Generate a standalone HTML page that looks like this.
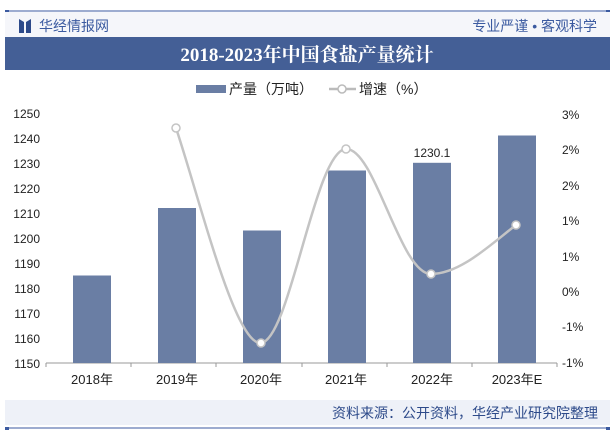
<!DOCTYPE html><html><head><meta charset="utf-8"><style>
body{margin:0;width:615px;height:434px;background:#fff;overflow:hidden;font-family:"Liberation Sans","Noto Sans CJK SC",sans-serif}
</style></head><body>
<svg width="615" height="434" xmlns="http://www.w3.org/2000/svg" font-family="Liberation Sans, Noto Sans CJK SC, sans-serif">
<rect x="5" y="10" width="4" height="3" fill="#3b5aa0"/><rect x="606" y="10" width="4" height="3" fill="#3b5aa0"/>
<line x1="5" y1="11" x2="610" y2="11" stroke="#3b5aa0" stroke-width="1"/>
<rect x="5" y="12" width="605" height="25" fill="#f5f6fa"/>
<path d="M19 19 L24 22 L24 33 L19 33 Z M31 19 L26 22 L26 33 L31 33 Z" fill="#2d4a8a"/>
<text x="39" y="31" font-size="14" fill="#3b5aa0">华经情报网</text>
<text x="597" y="31" font-size="14" fill="#3b5aa0" text-anchor="end">专业严谨 • 客观科学</text>
<rect x="5" y="37" width="605" height="33" fill="#445f96"/>
<text x="307" y="61" font-size="19" font-weight="bold" fill="#fff" text-anchor="middle" font-family="Liberation Serif, Noto Serif CJK SC, serif">2018-2023年中国食盐产量统计</text>
<rect x="196" y="85" width="30" height="8" fill="#6a7ea4"/>
<text x="229" y="94" font-size="14" fill="#222">产量（万吨）</text>
<line x1="329" y1="89" x2="356" y2="89" stroke="#bbb" stroke-width="2.5"/><circle cx="342" cy="89" r="4" fill="#fff" stroke="#bbb" stroke-width="1.5"/>
<text x="359" y="94" font-size="14" fill="#222">增速（%）</text>
<g font-size="12" fill="#222" text-anchor="end">
<text x="40" y="118">1250</text><text x="40" y="143">1240</text><text x="40" y="168">1230</text><text x="40" y="193">1220</text><text x="40" y="218">1210</text><text x="40" y="243">1200</text><text x="40" y="268">1190</text><text x="40" y="293">1180</text><text x="40" y="318">1170</text><text x="40" y="343">1160</text><text x="40" y="368">1150</text>
</g>
<g font-size="12" fill="#222">
<text x="562" y="119">3%</text><text x="562" y="154">2%</text><text x="562" y="190">2%</text><text x="562" y="225">1%</text><text x="562" y="261">1%</text><text x="562" y="296">0%</text><text x="562" y="331">-1%</text><text x="562" y="367">-1%</text>
</g>
<line x1="46" y1="363" x2="557" y2="363" stroke="#999"/>
<g stroke="#999"><line x1="46" y1="363" x2="46" y2="367"/><line x1="131" y1="363" x2="131" y2="367"/><line x1="216" y1="363" x2="216" y2="367"/><line x1="302" y1="363" x2="302" y2="367"/><line x1="387" y1="363" x2="387" y2="367"/><line x1="472" y1="363" x2="472" y2="367"/><line x1="557" y1="363" x2="557" y2="367"/></g>
<g fill="#6a7ea4">
<rect x="73" y="275.5" width="38" height="87.5"/><rect x="158" y="208" width="38" height="155"/><rect x="243" y="230.5" width="38" height="132.5"/><rect x="328" y="170.5" width="38" height="192.5"/><rect x="413" y="162.8" width="38" height="200.2"/><rect x="498" y="135.5" width="38" height="227.5"/>
</g>
<text x="432" y="157" font-size="12" fill="#222" text-anchor="middle">1230.1</text>
<path d="M176 128 C200 200,235 345,261 343 C290 340,315 150,346 149 C375 148,400 274,431 274 C460 274,490 245,516 225" fill="none" stroke="#c4c4c4" stroke-width="2.5"/>
<g fill="#fff" stroke="#c4c4c4" stroke-width="1.5"><circle cx="176" cy="128" r="4"/><circle cx="261" cy="343" r="4"/><circle cx="346" cy="149" r="4"/><circle cx="431" cy="274" r="4"/><circle cx="516" cy="225" r="4"/></g>
<g font-size="13" fill="#222" text-anchor="middle">
<text x="92" y="384">2018年</text><text x="177" y="384">2019年</text><text x="261" y="384">2020年</text><text x="346" y="384">2021年</text><text x="432" y="384">2022年</text><text x="517" y="384">2023年E</text>
</g>
<rect x="5" y="400" width="605" height="25" fill="#eef1f8"/>
<text x="598" y="418" font-size="14" fill="#2d4a8a" text-anchor="end">资料来源：公开资料，华经产业研究院整理</text>
<line x1="5" y1="428" x2="610" y2="428" stroke="#3b5aa0"/><rect x="5" y="427" width="4" height="3" fill="#3b5aa0"/><rect x="606" y="427" width="4" height="3" fill="#3b5aa0"/>
</svg></body></html>
